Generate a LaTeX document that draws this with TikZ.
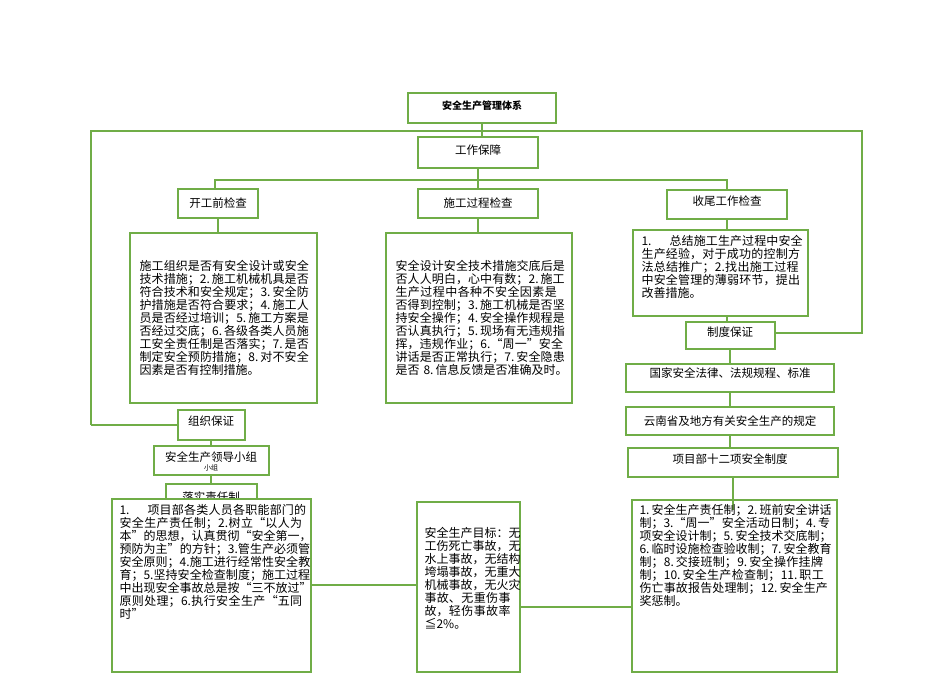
\documentclass[tikz,border=0pt]{standalone}
\usepackage{fontspec}
\setmainfont{Noto Sans CJK SC}
\XeTeXlinebreaklocale "zh"
\XeTeXlinebreakskip=0pt plus 1pt
\definecolor{boxgreen}{HTML}{70AD47}
\tikzset{
  gbox/.style={draw=boxgreen, line width=1.3pt, fill=white, inner sep=3pt},
  glink/.style={draw=boxgreen, line width=1.3pt},
  lbl/.style={font=\fontsize{11.5}{13}\selectfont},
  txt/.style={font=\fontsize{12}{13}\selectfont, align=left, text width=#1}
}
\begin{document}
\begin{tikzpicture}[x=1pt,y=-1pt]
    \useasboundingbox (0,0) rectangle (950,672);
    % links under the boxes
    \draw[glink] (482,123) -- (482,137);
    \draw[glink] (91,425) -- (91,131) -- (862,131) -- (862,333) -- (775,333);
    \draw[glink] (91,425) -- (178,425);
    \draw[glink] (478,168) -- (478,180);
    \draw[glink] (215,189) -- (215,180) -- (727,180) -- (727,190);
    \draw[glink] (478,180) -- (478,189);
    \draw[glink] (218,218) -- (218,233);
    \draw[glink] (478,218) -- (478,233);
    \draw[glink] (727,219) -- (727,230);
    \draw[glink] (727,316) -- (727,322);
    \draw[glink] (730,349) -- (730,364);
    \draw[glink] (730,392) -- (730,407);
    \draw[glink] (730,435) -- (730,448);
    \draw[glink] (211,440) -- (211,446);
    \draw[glink] (211,475) -- (211,484);
    \draw[glink] (311,585) -- (417,585);
    \draw[glink] (520,607) -- (632,607);
    % boxes
    \draw[gbox] (408,93) rectangle (556,123);
    \node[font=\fontsize{10}{12}\selectfont\bfseries] (title) at (482,106) {安全生产管理体系};
    \draw[gbox] (418,137) rectangle (538,168);
    \node[lbl] (work) at (478,150) {工作保障};
    \draw[gbox] (178,189) rectangle (258,218);
    \node[lbl] (pre) at (218,203) {开工前检查};
    \draw[gbox] (418,189) rectangle (538,218);
    \node[lbl] (proc) at (478,203) {施工过程检查};
    \draw[gbox] (667,190) rectangle (787,219);
    \node[lbl] (end) at (727,201) {收尾工作检查};
    \draw[gbox] (130,233) rectangle (317,403);
    \node[txt=172pt, anchor=north west] (pretxt) at (136,257) {施工组织是否有安全设计或安全技术措施；2.\,施工机械机具是否符合技术和安全规定；3.\,安全防护措施是否符合要求；4.\,施工人员是否经过培训；5.\,施工方案是否经过交底；6.\,各级各类人员施工安全责任制是否落实；7.\,是否制定安全预防措施；8.\,对不安全因素是否有控制措施。};
    \draw[gbox] (386,233) rectangle (572,403);
    \node[txt=172pt, anchor=north west] (proctxt) at (392,257) {安全设计安全技术措施交底后是否人人明白，心中有数；2.\,施工生产过程中各种不安全因素是否得到控制；3.\,施工机械是否坚持安全操作；4.\,安全操作规程是否认真执行；5.\,现场有无违规指挥，违规作业；6.“周一”安全讲话是否正常执行；7.\,安全隐患是否 8.\,信息反馈是否准确及时。};
    \draw[gbox] (633,230) rectangle (808,316);
    \node[txt=164pt, anchor=north west] (endtxt) at (638,232) {1.\hspace{1.5em}总结施工生产过程中安全生产经验，对于成功的控制方法总结推广；2.找出施工过程中安全管理的薄弱环节，提出改善措施。};
    \draw[gbox] (686,322) rectangle (775,349);
    \node[lbl] (sys) at (730,332) {制度保证};
    \draw[gbox] (626,364) rectangle (834,392);
    \node[lbl] (law) at (730,373) {国家安全法律、法规规程、标准};
    \draw[gbox] (626,407) rectangle (834,435);
    \node[lbl] (yn) at (730,421) {云南省及地方有关安全生产的规定};
    \draw[gbox] (628,448) rectangle (838,477);
    \node[lbl] (twelve) at (730,459) {项目部十二项安全制度};
    \draw[gbox] (632,500) rectangle (837,672);
    \draw[glink] (733,477) -- (733,510);
    \node[txt=192pt, anchor=north west] (twtxt) at (636,501) {1.\,安全生产责任制；2.\,班前安全讲话制；3.“周一”安全活动日制；4.\,专项安全设计制；5.\,安全技术交底制；6.\,临时设施检查验收制；7.\,安全教育制；8.\,交接班制；9.\,安全操作挂牌制；10.\,安全生产检查制；11.\,职工伤亡事故报告处理制；12.\,安全生产奖惩制。};
    \draw[gbox] (178,410) rectangle (245,440);
    \node[lbl] (org) at (211,421) {组织保证};
    \draw[gbox] (154,446) rectangle (269,475);
    \node[lbl] (lead) at (211,457) {安全生产领导小组};
    \node[font=\fontsize{7}{8}\selectfont] (leadb) at (211,468) {小组};
    \draw[gbox] (166,484) rectangle (257,510);
    \node[lbl] (resp) at (211,497) {落实责任制};
    \draw[gbox] (112,499) rectangle (311,672);
    \node[txt=192pt, anchor=north west] (resptxt) at (116,501) {1.\hspace{1.5em}项目部各类人员各职能部门的安全生产责任制；2.树立“以人为本”的思想，认真贯彻“安全第一，预防为主”的方针；3.管生产必须管安全原则；4.施工进行经常性安全教育；5.坚持安全检查制度；施工过程中出现安全事故总是按“三不放过”原则处理；6.执行安全生产“五同时”};
    \draw[gbox] (417,502) rectangle (520,672);
    \node[txt=96pt, anchor=north west] (goal) at (421,524) {安全生产目标：无工伤死亡事故，无水上事故，无结构垮塌事故，无重大机械事故，无火灾事故、无重伤事故，轻伤事故率≦2\%。};
\end{tikzpicture}
\end{document}
